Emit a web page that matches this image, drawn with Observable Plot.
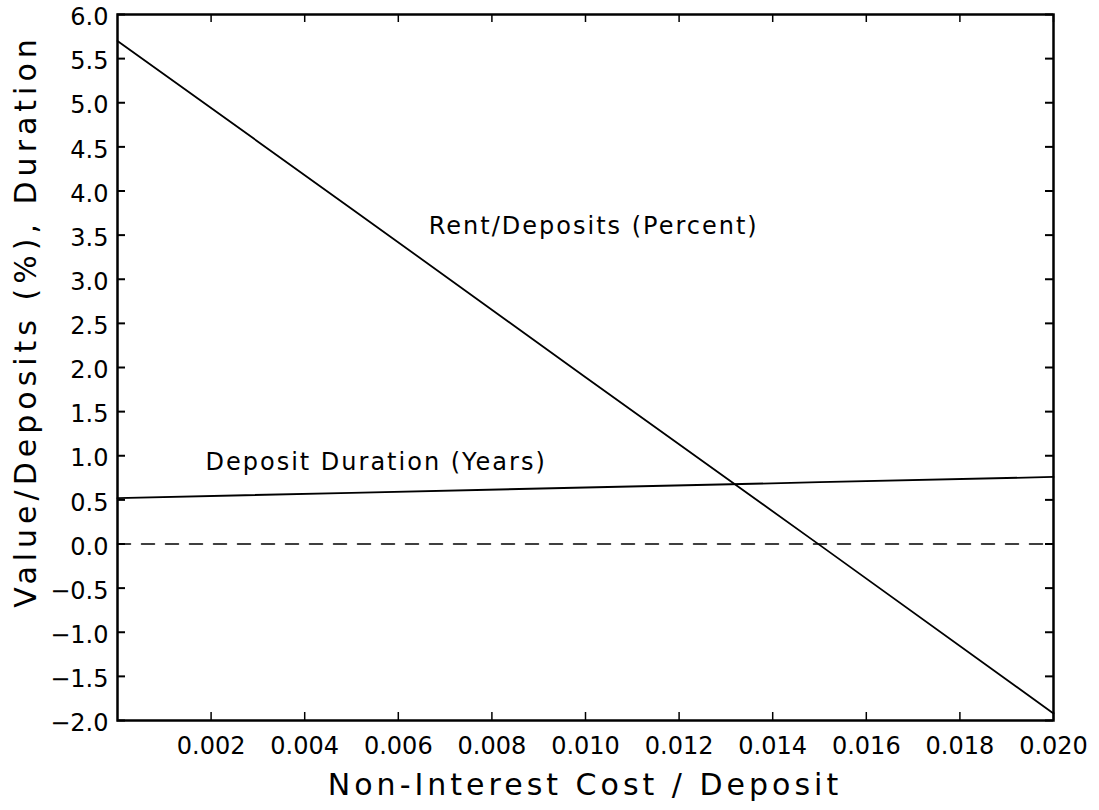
<!DOCTYPE html>
<html><head><meta charset="utf-8">
<script src="https://cdn.jsdelivr.net/npm/d3@7"></script>
<script src="https://cdn.jsdelivr.net/npm/@observablehq/plot@0.6"></script>
<style>
body{margin:0;background:#fff;}
svg g[aria-label="text"] text{letter-spacing:2px}
svg g.title text.xt{letter-spacing:4px}
svg g.title text.yt{letter-spacing:5px}
</style></head><body><div id="chart"></div>
<script>
// data
const costs = [0, 0.005, 0.010, 0.015, 0.020];
const rentPct = [5.70, 3.80, 1.89, -0.01, -1.92];
const durationYears = [0.52, 0.58, 0.64, 0.70, 0.76];
const zeroLine = [0, 0];
const zeroX = [0, 0.020];
const xTicks = [0.002, 0.004, 0.006, 0.008, 0.010, 0.012, 0.014, 0.016, 0.018, 0.020];
const yTicks = [-2, -1.5, -1, -0.5, 0, 0.5, 1, 1.5, 2, 2.5, 3, 3.5, 4, 4.5, 5, 5.5, 6];
const labelText = ["Rent/Deposits (Percent)", "Deposit Duration (Years)"];
const labelX = [0.00665, 0.00188];
const labelY = [3.6, 0.92];
const xTitle = "Non-Interest Cost / Deposit";
const yTitle = "Value/Deposits (%), Duration";

const rent = costs.map((c, i) => ({x: c, y: rentPct[i]}));
const dur = costs.map((c, i) => ({x: c, y: durationYears[i]}));
const zero = zeroX.map((c, i) => ({x: c, y: zeroLine[i]}));
const labels = labelText.map((t, i) => ({t, x: labelX[i], y: labelY[i]}));

const W = 1099, H = 810, ML = 117, MR = 46, MT = 14, MB = 90;
const PW = W - ML - MR, PH = H - MT - MB, TL = 8;
const fmt = d => d.toFixed(1).replace("-", "\u2212");

const chart = Plot.plot({
  width: W, height: H,
  marginLeft: ML, marginRight: MR, marginTop: MT, marginBottom: MB,
  style: {fontFamily: "DejaVu Sans", color: "#000", background: "#fff"},
  x: {domain: [0, 0.020]},
  y: {domain: [-2, 6]},
  marks: [
    Plot.axisX({ticks: xTicks, tickSize: 0, tickPadding: 16, fontSize: 24, tickFormat: d => d.toFixed(3), label: null}),
    Plot.axisY({ticks: yTicks, tickSize: 0, tickPadding: 9, fontSize: 24, tickFormat: fmt, dy: 3, label: null}),
    Plot.tickY(yTicks, {y: d => d, insetRight: PW - TL, strokeWidth: 2}),
    Plot.tickY(yTicks, {y: d => d, insetLeft: PW - TL, strokeWidth: 2}),
    Plot.tickX(xTicks, {x: d => d, insetTop: PH - TL, strokeWidth: 1.5}),
    Plot.tickX(xTicks, {x: d => d, insetBottom: PH - TL, strokeWidth: 1.5}),
    Plot.line(zero, {x: "x", y: "y", stroke: "#000", strokeWidth: 1.5, strokeDasharray: "13,11"}),
    Plot.line(dur, {x: "x", y: "y", stroke: "#000", strokeWidth: 1.8}),
    Plot.line(rent, {x: "x", y: "y", stroke: "#000", strokeWidth: 1.8}),
    Plot.text(labels, {x: "x", y: "y", text: "t", textAnchor: "start", fontSize: 24, fill: "#000"}),
    Plot.frame({stroke: "#000", strokeWidth: 2.5})
  ]
});

const svg = d3.select(chart);
const tg = svg.append("g").attr("class", "title");
tg.append("text").attr("class", "xt")
  .attr("x", ML + PW / 2).attr("y", MT + PH + 75)
  .attr("text-anchor", "middle").attr("font-size", 30).attr("fill", "#000")
  .text(xTitle);
tg.append("text").attr("class", "yt")
  .attr("transform", `translate(36,${MT + PH / 2 - 46}) rotate(-90)`)
  .attr("text-anchor", "middle").attr("font-size", 30).attr("fill", "#000")
  .text(yTitle);
document.getElementById("chart").appendChild(chart);
</script></body></html>
